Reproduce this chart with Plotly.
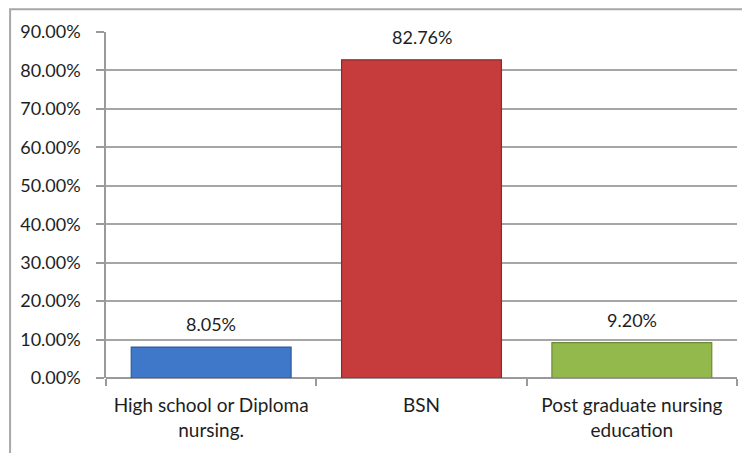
import plotly.graph_objects as go

categories = ["High school or Diploma<br>nursing.", "BSN", "Post graduate nursing<br>education"]
values = [8.05, 82.76, 9.20]
labels = ["8.05%", "82.76%", "9.20%"]
bar_colors = ["#3f78c8", "#c63c3c", "#93b84c"]
line_colors = ["#2c5a98", "#8a2a2a", "#6d8a36"]
tick_vals = [0, 10, 20, 30, 40, 50, 60, 70, 80, 90]
tick_text = ["%.2f%%" % v for v in tick_vals]

FONT = "Lato, 'Open Sans', sans-serif"
FS = 18

fig = go.Figure()
fig.add_trace(go.Bar(
    x=categories, y=values,
    marker=dict(color=bar_colors, line=dict(color=line_colors, width=1.2)),
    width=0.76, hoverinfo="skip",
))

for c, v, t in zip(categories, values, labels):
    fig.add_annotation(x=c, y=v, text=t, showarrow=False, yanchor="bottom",
                       yshift=10, font=dict(family=FONT, size=FS, color="#1e1e1e"))

fig.update_layout(
    width=750, height=453,
    margin=dict(l=97, r=21, t=21, b=83),
    paper_bgcolor="white", plot_bgcolor="white",
    showlegend=False,
    font=dict(family=FONT, size=FS, color="#1e1e1e"),
    xaxis=dict(
        type="category", tickson="boundaries", ticks="outside", ticklen=7,
        tickcolor="#9a9a9a", tickwidth=1.5, showline=False, showgrid=False,
        tickfont=dict(family=FONT, size=19, color="#1e1e1e"),
        ticklabelstandoff=14,
    ),
    yaxis=dict(
        range=[0, 90], tickvals=tick_vals, ticktext=tick_text,
        ticks="outside", ticklen=8, tickcolor="#9a9a9a", tickwidth=1.5,
        showgrid=True, gridcolor="#a6a6a6", gridwidth=1.5,
        showline=True, linecolor="#9a9a9a", linewidth=1.5,
        zeroline=True, zerolinecolor="#9a9a9a", zerolinewidth=1.5,
        tickfont=dict(family=FONT, size=FS, color="#1e1e1e"),
        ticklabelstandoff=12,
    ),
    shapes=[dict(type="rect", xref="paper", yref="paper",
                 x0=-0.152, x1=1.1, y0=-0.5, y1=1.066,
                 line=dict(color="#a8a8a8", width=2), layer="below")],
)

fig.write_html("out.html")
